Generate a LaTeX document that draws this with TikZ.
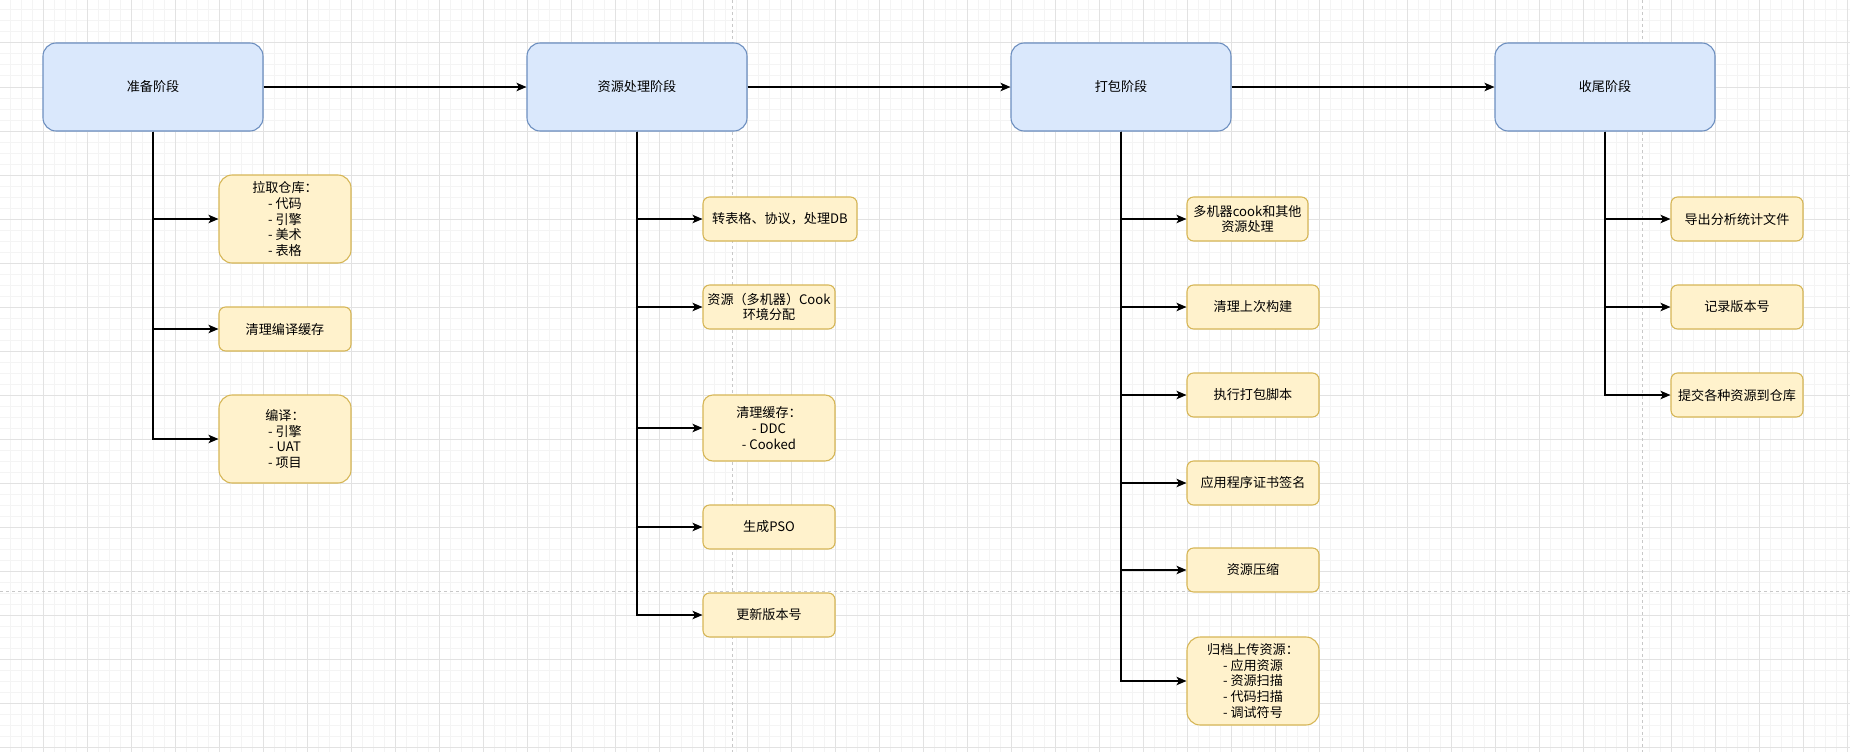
\documentclass[tikz,border=0pt]{standalone}
\usepackage{fontspec}
\setmainfont{Noto Sans CJK SC}
\usepackage{tikz}
\usetikzlibrary{arrows.meta}
\definecolor{stagefill}{HTML}{DAE8FC}
\definecolor{stageline}{HTML}{6C8EBF}
\definecolor{taskfill}{HTML}{FFF2CC}
\definecolor{taskline}{HTML}{D6B656}
\definecolor{gridmajor}{HTML}{E2E2E2}
\definecolor{gridminor}{HTML}{F4F4F4}
\definecolor{pageline}{HTML}{C8C8C8}
\tikzstyle{stage}=[rectangle,draw=stageline,fill=stagefill,line width=1.1pt,rounded corners=13.2pt,minimum width=220pt,minimum height=88pt,inner sep=0pt]
\tikzstyle{task}=[rectangle,draw=taskline,fill=taskfill,line width=1.1pt,align=center,inner sep=0pt]
\tikzstyle{edge}=[draw,line width=1.2pt,-{Stealth[length=10pt,width=8.5pt,inset=2.5pt]}]
\tikzstyle{minorline}=[draw=gridminor,line width=1pt]
\tikzstyle{majorline}=[draw=gridmajor,line width=1pt]
\tikzstyle{pagebreak}=[draw=pageline,line width=1pt,dash pattern=on 3pt off 3pt]

\begin{document}
\begin{tikzpicture}[x=1pt,y=-1pt,font=\fontsize{13.1pt}{15.7pt}\selectfont]
    \useasboundingbox (0,0) rectangle (1850,752);
    % background grid and page breaks
    \fill[white] (0,0) rectangle (1850,752);
    \foreach \gx in {10,21,...,1850} \path[minorline] (\gx,0) -- (\gx,752);
    \foreach \gy in {10,21,...,752} \path[minorline] (0,\gy) -- (1850,\gy);
    \foreach \gx in {43,87,...,1850} \path[majorline] (\gx,0) -- (\gx,752);
    \foreach \gy in {43,87,...,752} \path[majorline] (0,\gy) -- (1850,\gy);
    \path[pagebreak] (732,0) -- (732,752);
    \path[pagebreak] (1642,0) -- (1642,752);
    \path[pagebreak] (0,591) -- (1850,591);

    % First the four stages
    \foreach \pos/\name/\label in {{(153,87)/prep/准备阶段}, {(637,87)/res/资源处理阶段},
    {(1121,87)/pack/打包阶段}, {(1605,87)/fin/收尾阶段}}
        \node[stage] (\name) at \pos {\label};

    % Then the steps of every stage
    \foreach \pos/\name/\bw/\bh/\txt in {{(285,219)/p1/132/88/拉取仓库：\\- 代码\\- 引擎\\- 美术\\- 表格},
    {(285,329)/p2/132/44/清理编译缓存}, {(285,439)/p3/132/88/编译：\\- 引擎\\- UAT\\- 项目},
    {(780,219)/r1/154/44/转表格、协议，处理DB}, {(769,307)/r2/132/44/资源（多机器）Cook\\环境分配},
    {(769,428)/r3/132/66/清理缓存：\\- DDC\\- Cooked}, {(769,527)/r4/132/44/生成PSO},
    {(769,615)/r5/132/44/更新版本号},
    {(1247.5,219)/k1/121/44/多机器cook和其他\\资源处理}, {(1253,307)/k2/132/44/清理上次构建},
    {(1253,395)/k3/132/44/执行打包脚本}, {(1253,483)/k4/132/44/应用程序证书签名},
    {(1253,570)/k5/132/44/资源压缩},
    {(1253,681)/k6/132/88/归档上传资源：\\- 应用资源\\- 资源扫描\\- 代码扫描\\- 调试符号},
    {(1737,219)/f1/132/44/导出分析统计文件}, {(1737,307)/f2/132/44/记录版本号},
    {(1737,395)/f3/132/44/提交各种资源到仓库}}
        \node[task,minimum width=\bw pt,minimum height=\bh pt,rounded corners=0.15*\bh pt] (\name) at \pos {\txt};

    % Connect the stages
    \foreach \source/\dest in {prep/res, res/pack, pack/fin}
        \path[edge] (\source) -- (\dest);
    % Connect every stage with its steps
    \foreach \source/\dest in {prep/p1, prep/p2, prep/p3, res/r1, res/r2, res/r3, res/r4, res/r5,
    pack/k1, pack/k2, pack/k3, pack/k4, pack/k5, pack/k6, fin/f1, fin/f2, fin/f3}
        \path[edge] (\source.south) |- (\dest.west);
\end{tikzpicture}
\end{document}
